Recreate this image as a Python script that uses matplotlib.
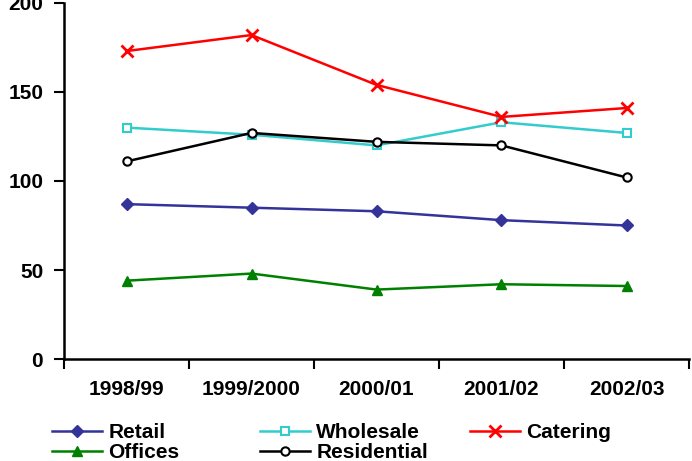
import matplotlib
matplotlib.use("Agg")
import matplotlib.pyplot as plt
import numpy as np

plt.rcParams["font.family"] = ["Liberation Sans", "DejaVu Sans"]
plt.rcParams["font.weight"] = "bold"

years = ["1998/99", "1999/2000", "2000/01", "2001/02", "2002/03"]
retail = [87, 85, 83, 78, 75]
wholesale = [130, 126, 120, 133, 127]
catering = [173, 182, 154, 136, 141]
offices = [44, 48, 39, 42, 41]
residential = [111, 127, 122, 120, 102]

series = [
    ("Retail", retail, "#333399", dict(marker="D", markersize=6)),
    ("Wholesale", wholesale, "#33CCCC", dict(marker="s", markersize=6, markerfacecolor="white", markeredgewidth=1.5)),
    ("Catering", catering, "#FF0000", dict(marker="x", markersize=8, markeredgewidth=2)),
    ("Offices", offices, "#008000", dict(marker="^", markersize=7)),
    ("Residential", residential, "#000000", dict(marker="o", markersize=6, markerfacecolor="white", markeredgewidth=1.5)),
]

fig = plt.figure(figsize=(6.92, 4.61), dpi=100)
ax = fig.add_axes([64 / 692, (461 - 359) / 461, (689 - 64) / 692, 356 / 461])

x = np.arange(len(years))
handles = {}
for name, vals, color, style in series:
    (ln,) = ax.plot(x, vals, color=color, lw=1.8, label=name, clip_on=False, **style)
    handles[name] = ln

ax.set_xlim(-0.5, len(years) - 0.5)
ax.set_ylim(0, 200)
ax.set_yticks([0, 50, 100, 150, 200])
ax.set_xticks(np.arange(len(years) + 1) - 0.5)
ax.set_xticklabels([])
ax.set_xticks(x, minor=True)
ax.set_xticklabels(years, minor=True)
ax.tick_params(axis="x", which="minor", length=0, pad=15, labelsize=15)
ax.tick_params(axis="x", which="major", length=7, width=1.5, direction="out")
ax.tick_params(axis="y", length=7, width=1.5, direction="out", labelsize=15, pad=8)
for lab in ax.get_xticklabels(minor=True) + ax.get_yticklabels():
    lab.set_fontweight("bold")

for s in ["top", "right"]:
    ax.spines[s].set_visible(False)
for s in ["left", "bottom"]:
    ax.spines[s].set_linewidth(1.8)

# legend columns laid out like the original (fixed column slots)
cols = [(["Retail", "Offices"], 52), (["Wholesale", "Residential"], 260), (["Catering"], 470)]
for names, px in cols:
    fig.legend([handles[n] for n in names], names, loc="upper left",
               bbox_to_anchor=(px / 692, 1 - 423 / 461), frameon=False,
               handlelength=2.4, handletextpad=0.3,
               labelspacing=0.05, borderpad=0, borderaxespad=0,
               prop={"weight": "bold", "size": 15})

fig.savefig("out.png", dpi=100)
